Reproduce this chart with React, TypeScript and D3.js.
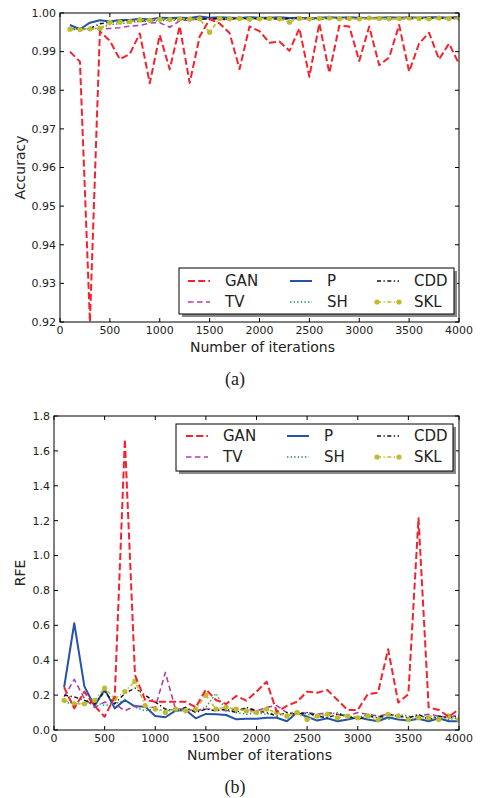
import React from "react";
import * as d3 from "d3";

// iterations on the x axis
const iterations = [100, 200, 300, 400, 500, 600, 700, 800, 900, 1000, 1100, 1200, 1300, 1400, 1500, 1600, 1700, 1800, 1900, 2000,
  2100, 2200, 2300, 2400, 2500, 2600, 2700, 2800, 2900, 3000, 3100, 3200, 3300, 3400, 3500, 3600, 3700, 3800, 3900, 4000];

const seriesNames = ["GAN", "TV", "P", "SH", "CDD", "SKL"];

// (a) accuracy
const accGAN = [0.990, 0.9874, 0.920, 0.9952, 0.9928, 0.988, 0.9894, 0.9947, 0.9818, 0.9943, 0.9854, 0.9966, 0.9819, 0.9939, 0.9984, 0.9973, 0.9948, 0.9855, 0.9965, 0.9953,
  0.9923, 0.9926, 0.9902, 0.996, 0.9835, 0.9973, 0.9845, 0.9967, 0.9965, 0.9876, 0.9965, 0.9865, 0.9885, 0.9969, 0.9848, 0.9921, 0.9949, 0.988, 0.9921, 0.9868];
const accTV = [0.9958, 0.9957, 0.9958, 0.9959, 0.996, 0.9962, 0.9966, 0.9968, 0.9974, 0.9975, 0.9963, 0.998, 0.9982, 0.9984, 0.9985, 0.9984, 0.9983, 0.9985, 0.9985, 0.9984,
  0.9985, 0.9984, 0.9985, 0.9986, 0.9984, 0.9985, 0.9986, 0.9985, 0.9984, 0.9986, 0.9985, 0.9986, 0.9985, 0.9986, 0.9985, 0.9986, 0.9985, 0.9986, 0.9985, 0.9986];
const accP = [0.9969, 0.9958, 0.9975, 0.9981, 0.9978, 0.9982, 0.9982, 0.9985, 0.9983, 0.9988, 0.9987, 0.9988, 0.9987, 0.9991, 0.9988, 0.9989, 0.9988, 0.9987, 0.9989, 0.9988,
  0.9988, 0.9989, 0.9987, 0.9988, 0.9986, 0.9988, 0.9989, 0.9988, 0.9989, 0.9988, 0.9987, 0.9988, 0.9989, 0.9988, 0.9989, 0.9988, 0.9989, 0.9989, 0.9988, 0.999];
const accSH = [0.9958, 0.9958, 0.9959, 0.9961, 0.997, 0.9972, 0.9975, 0.9978, 0.9979, 0.998, 0.9981, 0.9982, 0.9983, 0.9984, 0.9985, 0.9984, 0.9985, 0.9986, 0.9985, 0.9986,
  0.9985, 0.9986, 0.9985, 0.9986, 0.9986, 0.9985, 0.9986, 0.9987, 0.9986, 0.9985, 0.9986, 0.9987, 0.9986, 0.9985, 0.9986, 0.9987, 0.9986, 0.9986, 0.9987, 0.9986];
const accCDD = [0.9958, 0.9958, 0.996, 0.9972, 0.9976, 0.9979, 0.998, 0.9979, 0.9981, 0.9983, 0.9984, 0.9983, 0.9985, 0.9984, 0.9986, 0.9985, 0.9984, 0.9986, 0.9985, 0.9986,
  0.9986, 0.9985, 0.9986, 0.9987, 0.9986, 0.9985, 0.9986, 0.9987, 0.9986, 0.9986, 0.9987, 0.9986, 0.9985, 0.9986, 0.9987, 0.9986, 0.9987, 0.9986, 0.9987, 0.9987];
const accSKL = [0.9958, 0.9957, 0.9959, 0.996, 0.9976, 0.9977, 0.9978, 0.9982, 0.9981, 0.9984, 0.9983, 0.9985, 0.9984, 0.9985, 0.995, 0.9986, 0.9985, 0.9986, 0.9984, 0.9985,
  0.9986, 0.9985, 0.9976, 0.9986, 0.9985, 0.9986, 0.9987, 0.9985, 0.9986, 0.9985, 0.9987, 0.9986, 0.9985, 0.9986, 0.9987, 0.9986, 0.9985, 0.9987, 0.9986, 0.9987];

// (b) RFE
const rfeGAN = [0.245, 0.124, 0.22, 0.138, 0.076, 0.19, 1.667, 0.315, 0.172, 0.162, 0.162, 0.162, 0.162, 0.13, 0.233, 0.172, 0.149, 0.195, 0.168, 0.22,
  0.277, 0.105, 0.138, 0.162, 0.22, 0.214, 0.229, 0.172, 0.115, 0.115, 0.206, 0.214, 0.463, 0.157, 0.206, 1.214, 0.13, 0.115, 0.076, 0.119];
const rfeTV = [0.19, 0.29, 0.18, 0.13, 0.16, 0.15, 0.11, 0.14, 0.13, 0.13, 0.33, 0.12, 0.12, 0.11, 0.12, 0.12, 0.11, 0.12, 0.12, 0.11,
  0.13, 0.14, 0.1, 0.09, 0.1, 0.09, 0.1, 0.09, 0.08, 0.1, 0.09, 0.08, 0.09, 0.08, 0.07, 0.08, 0.09, 0.08, 0.07, 0.09];
const rfeP = [0.245, 0.612, 0.25, 0.138, 0.233, 0.124, 0.172, 0.134, 0.134, 0.08, 0.073, 0.111, 0.115, 0.067, 0.092, 0.09, 0.086, 0.061, 0.065, 0.065,
  0.07, 0.07, 0.05, 0.1, 0.076, 0.054, 0.067, 0.05, 0.06, 0.073, 0.06, 0.05, 0.073, 0.06, 0.055, 0.065, 0.05, 0.067, 0.05, 0.05];
const rfeSH = [0.16, 0.15, 0.15, 0.16, 0.14, 0.15, 0.17, 0.13, 0.11, 0.12, 0.11, 0.12, 0.11, 0.11, 0.13, 0.21, 0.11, 0.1, 0.09, 0.1,
  0.09, 0.1, 0.08, 0.11, 0.09, 0.08, 0.09, 0.1, 0.08, 0.07, 0.09, 0.08, 0.06, 0.09, 0.08, 0.07, 0.08, 0.07, 0.06, 0.07];
const rfeCDD = [0.2, 0.19, 0.17, 0.15, 0.22, 0.15, 0.21, 0.24, 0.2, 0.16, 0.12, 0.11, 0.13, 0.1, 0.12, 0.11, 0.12, 0.1, 0.13, 0.11,
  0.1, 0.08, 0.1, 0.09, 0.1, 0.08, 0.07, 0.09, 0.08, 0.06, 0.08, 0.07, 0.09, 0.08, 0.07, 0.09, 0.06, 0.08, 0.07, 0.08];
const rfeSKL = [0.17, 0.15, 0.15, 0.17, 0.24, 0.18, 0.22, 0.28, 0.14, 0.12, 0.1, 0.12, 0.11, 0.12, 0.2, 0.12, 0.13, 0.12, 0.11, 0.1,
  0.12, 0.1, 0.08, 0.1, 0.06, 0.08, 0.09, 0.07, 0.08, 0.07, 0.08, 0.06, 0.09, 0.08, 0.06, 0.07, 0.07, 0.06, 0.08, 0.06];

const xTicks = [0, 500, 1000, 1500, 2000, 2500, 3000, 3500, 4000];
const accTicks = [0.92, 0.93, 0.94, 0.95, 0.96, 0.97, 0.98, 0.99, 1.0];
const rfeTicks = [0.0, 0.2, 0.4, 0.6, 0.8, 1.0, 1.2, 1.4, 1.6, 1.8];

// line styles per series
const styles = {
  GAN: { color: "#f5222e", width: 2, dash: "7,3.2" },
  TV: { color: "#b040a8", width: 1.6, dash: "5.5,3.5" },
  P: { color: "#2553a8", width: 2, dash: null },
  SH: { color: "#1f8f5a", width: 1.4, dash: "1.4,2.2" },
  CDD: { color: "#111111", width: 1.4, dash: "4,2.5,1.3,2.5" },
  SKL: { color: "#bcbc2c", width: 1.5, dash: "4,2.5,1.3,2.5", marker: true },
};

const font = "DejaVu Sans, sans-serif";

type PanelProps = {
  left: number; right: number; top: number; bottom: number;
  yDomain: [number, number]; yTicks: number[]; yFmt: (v: number) => string;
  yTitle: string; data: number[][];
  legend: { x: number; y: number; w: number; h: number; cols: number[]; rows: number[] };
  caption: string; clipId: string;
};

const Panel = ({ left, right, top, bottom, yDomain, yTicks, yFmt, yTitle, data, legend, caption, clipId }: PanelProps) => {
  const x = d3.scaleLinear().domain([0, 4000]).range([left, right]);
  const y = d3.scaleLinear().domain(yDomain).range([bottom, top]);
  const tick = 4;
  // draw order: GAN on top
  const order = [2, 1, 3, 4, 5, 0];
  return (
    <g>
      <defs>
        <clipPath id={clipId}>
          <rect x={left} y={top} width={right - left} height={bottom - top} />
        </clipPath>
      </defs>
      <g clipPath={`url(#${clipId})`}>
        {order.map(i => {
          const name = seriesNames[i];
          const s: any = (styles as any)[name];
          const line = d3.line<number>().x((_, k) => x(iterations[k])).y(d => y(d));
          return (
            <g key={name}>
              <path d={line(data[i]) || ""} fill="none" stroke={s.color} strokeWidth={s.width}
                strokeDasharray={s.dash || undefined} strokeLinejoin="round" />
              {s.marker && data[i].map((d, k) => (
                <circle key={k} cx={x(iterations[k])} cy={y(d)} r={2.6} fill={s.color} />
              ))}
            </g>
          );
        })}
      </g>
      <rect x={left} y={top} width={right - left} height={bottom - top} fill="none" stroke="#000" strokeWidth={1} />
      {xTicks.map(t => (
        <g key={"x" + t}>
          <line x1={x(t)} x2={x(t)} y1={bottom} y2={bottom - tick} stroke="#000" />
          <line x1={x(t)} x2={x(t)} y1={top} y2={top + tick} stroke="#000" />
          <text x={x(t)} y={bottom + 12} fontSize={11} textAnchor="middle" fontFamily={font} fill="#222">{t}</text>
        </g>
      ))}
      {yTicks.map(t => (
        <g key={"y" + t}>
          <line x1={left} x2={left + tick} y1={y(t)} y2={y(t)} stroke="#000" />
          <line x1={right} x2={right - tick} y1={y(t)} y2={y(t)} stroke="#000" />
          <text x={left - 4} y={y(t)} dy="0.35em" fontSize={11} textAnchor="end" fontFamily={font} fill="#222">{yFmt(t)}</text>
        </g>
      ))}
      <text x={(left + right) / 2 + 3} y={bottom + 30} fontSize={14} textAnchor="middle" fontFamily={font} fill="#222">Number of iterations</text>
      <text transform={`translate(25,${(top + bottom) / 2}) rotate(-90)`} fontSize={14} textAnchor="middle" fontFamily={font} fill="#222">{yTitle}</text>
      {/* legend */}
      <rect x={legend.x + 3} y={legend.y + 3} width={legend.w} height={legend.h} fill="#888" />
      <rect x={legend.x} y={legend.y} width={legend.w} height={legend.h} fill="#fff" stroke="#000" strokeWidth={1} />
      {seriesNames.map((name, i) => {
        const s: any = (styles as any)[name];
        const col = Math.floor(i / 2);
        const row = i % 2;
        const lx = legend.x + legend.cols[col];
        const ly = legend.y + legend.rows[row];
        return (
          <g key={"lg" + name}>
            <line x1={lx} x2={lx + 22} y1={ly} y2={ly} stroke={s.color} strokeWidth={s.width}
              strokeDasharray={s.dash || undefined} />
            {s.marker && <>
              <circle cx={lx} cy={ly} r={2.6} fill={s.color} />
              <circle cx={lx + 22} cy={ly} r={2.6} fill={s.color} />
            </>}
            <text x={lx + 37} y={ly} dy="0.36em" fontSize={15} fontFamily={font} fill="#222">{name}</text>
          </g>
        );
      })}
      <text x={235} y={bottom + 63} fontSize={18} textAnchor="middle" fontFamily="Liberation Serif, serif" fill="#222">{caption}</text>
    </g>
  );
};

const App = () => {
  return (
    <svg width={480} height={798} style={{ position: "absolute", left: 0, top: 0, background: "#fff" }}>
      <Panel left={60} right={459} top={13} bottom={322} yDomain={[0.92, 1.0]} yTicks={accTicks}
        yFmt={v => v.toFixed(2)} yTitle="Accuracy"
        data={[accGAN, accTV, accP, accSH, accCDD, accSKL]}
        legend={{ x: 179, y: 268, w: 275, h: 46, cols: [9, 111, 198], rows: [13, 34] }}
        caption="(a)" clipId="clipA" />
      <Panel left={54} right={459} top={416} bottom={730} yDomain={[0, 1.8]} yTicks={rfeTicks}
        yFmt={v => v.toFixed(1)} yTitle="RFE"
        data={[rfeGAN, rfeTV, rfeP, rfeSH, rfeCDD, rfeSKL]}
        legend={{ x: 176, y: 424, w: 277, h: 47, cols: [10, 111, 201], rows: [12, 33] }}
        caption="(b)" clipId="clipB" />
    </svg>
  );
};

export default App;
